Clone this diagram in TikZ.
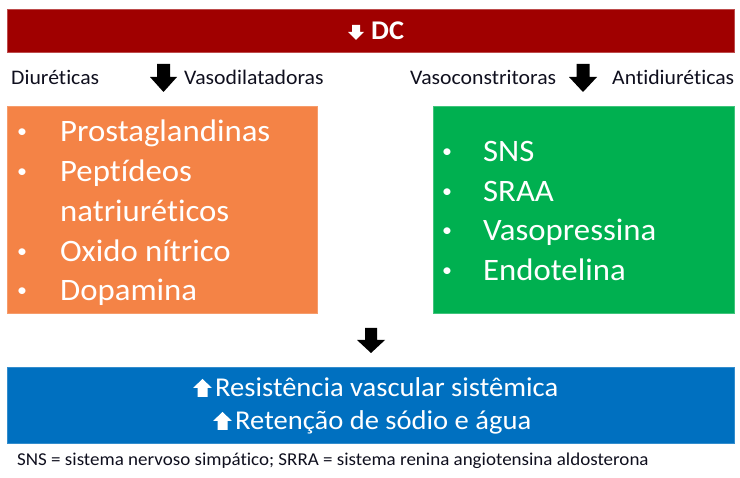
\documentclass[tikz,border=0pt]{standalone}
\usepackage{fontspec}
\setmainfont{Carlito}[FakeStretch=1.05, Ligatures=NoCommon]
\definecolor{barred}{RGB}{160,0,0}
\definecolor{boxorange}{RGB}{244,131,70}
\definecolor{boxgreen}{RGB}{0,176,80}
\definecolor{boxblue}{RGB}{0,112,192}
\definecolor{labelink}{RGB}{15,15,30}
\tikzset{
  box/.style={line width=0.8pt},
  blackarrow/.style={fill=black},
  whitearrow/.style={fill=white},
  label/.style={anchor=base west, inner sep=0pt, text=labelink, font=\fontsize{20.7}{25}\selectfont},
  itemtext/.style={anchor=base west, inner sep=0pt, text=white, font=\fontsize{31.2}{37}\selectfont},
  bullet/.style={anchor=base, inner sep=0pt, text=white, font=\fontsize{19}{23}\selectfont},
  bluetext/.style={anchor=base west, inner sep=0pt, text=white, font=\fontsize{27.2}{33}\selectfont},
  foot/.style={anchor=base west, inner sep=0pt, text=labelink, font=\fontsize{18.1}{22}\selectfont}
}
\begin{document}
\begin{tikzpicture}[x=1pt,y=-1pt]
\useasboundingbox (0,0) rectangle (740,478);
% boxes
\filldraw[box, fill=barred, draw=barred!70!white] (7,9) rectangle (734,52);
\filldraw[box, fill=boxorange, draw=boxorange!80!white] (7,106) rectangle (317,313);
\filldraw[box, fill=boxgreen, draw=boxgreen!75!white] (433,106) rectangle (734,313);
\filldraw[box, fill=boxblue, draw=boxblue!80!white] (7,367) rectangle (734,443);
% top bar
\fill[whitearrow] (352,25) -- (360,25) -- (360,32) -- (364,32) -- (356,40) -- (348,32) -- (352,32) -- cycle;
\node[anchor=base west, inner sep=0pt, text=white, font=\bfseries\fontsize{27}{31}\selectfont] (dc) at (371,40) {DC};
% labels row
\node[label] (diur) at (11,85) {Diuréticas};
\fill[blackarrow] (157,64) -- (170,64) -- (170,77) -- (177,77) -- (163.5,92) -- (150,77) -- (157,77) -- cycle;
\node[label] (vasod) at (184,85) {Vasodilatadoras};
\node[label] (vasoc) at (410,85) {Vasoconstritoras};
\fill[blackarrow] (576.5,64) -- (589.5,64) -- (589.5,77) -- (597,77) -- (583,92) -- (569,77) -- (576.5,77) -- cycle;
\node[label] (antid) at (612,85) {Antidiuréticas};
% orange list
\node[bullet] (ob1) at (22,137.7) {•};
\node[itemtext] (o1) at (60,142) {Prostaglandinas};
\node[bullet] (ob2) at (22,177.7) {•};
\node[itemtext] (o2) at (60,182) {Peptídeos};
\node[itemtext] (o3) at (60,222) {natriuréticos};
\node[bullet] (ob4) at (22,257.7) {•};
\node[itemtext] (o4) at (60,262) {Oxido nítrico};
\node[bullet] (ob5) at (22,296.7) {•};
\node[itemtext] (o5) at (60,301) {Dopamina};
% green list
\node[bullet] (gb1) at (447,157.7) {•};
\node[itemtext] (g1) at (483,162) {SNS};
\node[bullet] (gb2) at (447,197.2) {•};
\node[itemtext] (g2) at (483,201.5) {SRAA};
\node[bullet] (gb3) at (447,236.7) {•};
\node[itemtext] (g3) at (483,241) {Vasopressina};
\node[bullet] (gb4) at (447,276.2) {•};
\node[itemtext] (g4) at (483,280.5) {Endotelina};
% middle arrow
\fill[blackarrow] (365,328) -- (377,328) -- (377,340) -- (385,340) -- (371,353) -- (357,340) -- (365,340) -- cycle;
% blue box
\fill[whitearrow] (202.5,379) -- (212,388) -- (207.5,388) -- (207.5,397) -- (197.5,397) -- (197.5,388) -- (193,388) -- cycle;
\node[bluetext] (b1) at (215,397) {Resistência vascular sistêmica};
\fill[whitearrow] (222.5,412) -- (232,421) -- (227.5,421) -- (227.5,430) -- (217.5,430) -- (217.5,421) -- (213,421) -- cycle;
\node[bluetext] (b2) at (235,430) {Retenção de sódio e água};
% footnote
\node[foot] (fn) at (17,466) {SNS = sistema nervoso simpático; SRRA = sistema renina angiotensina aldosterona};
\end{tikzpicture}
\end{document}
